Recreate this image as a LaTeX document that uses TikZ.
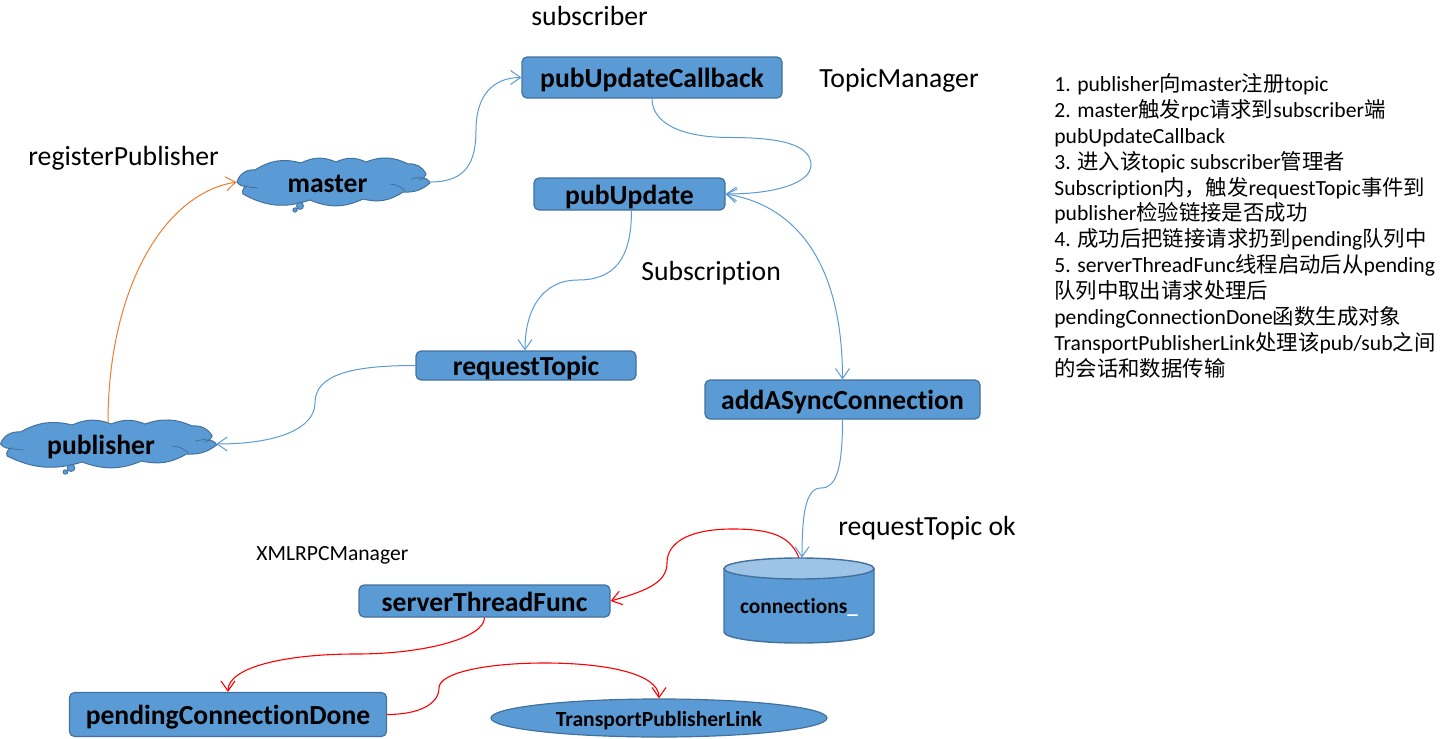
\documentclass[tikz,border=0pt]{standalone}
\usepackage{fontspec}
\setmainfont{Carlito}[Ligatures=NoCommon]
\newfontfamily\cjk{Noto Sans CJK SC}[Scale=0.99]
\usetikzlibrary{arrows.meta,shapes.geometric}
\definecolor{bfill}{HTML}{5B9BD5}
\definecolor{bline}{HTML}{41719C}
\definecolor{blight}{HTML}{9DC3E6}
\definecolor{conn}{HTML}{5B9BD5}
\definecolor{orng}{HTML}{ED7D31}
\newcommand\cj[1]{{\cjk #1}}
\newcommand\cloudshape[3]{%
\begin{scope}[shift={(#1,#2)},xscale=#3]
\draw[bline,fill=bfill,line width=0.5pt]
 (-96,0) to[bend left=40] (-78,-12) to[bend left=24] (-32,-19) to[bend left=25] (3,-20)
 to[bend left=25] (33,-20) to[bend left=24] (75,-18) to[bend left=35] (93,-8)
 to[bend left=30] (88,-3) to[bend left=50] (97,1) to[bend left=22] (70,10) to[bend left=24] (30,17)
 to[bend left=24] (-23,18) to[bend left=24] (-90,12) to[bend left=60] (-85,4)
 to[bend left=35] cycle;
\draw[bline,line width=0.4pt] (57,2) to[bend left=20] (72,9) (78,-3) -- (88,-5)
 (-85,5) -- (-75,6);
\fill[bfill] (-33,24) circle (3.5) (-38,28) circle (2.2);
\draw[bline,line width=0.4pt] (-33,24) circle (3.5) (-38,28) circle (2.2);
\end{scope}}
\tikzset{x=0.5pt,y=-0.5pt,
 boxnode/.style={draw=bline,fill=bfill,rounded corners=2.5pt,line width=0.6pt,
   text height=11.5pt,text depth=1.5pt,font=\bfseries\fontsize{13.8}{15}\selectfont,inner sep=0pt},
 cloudnode/.style={inner sep=0pt,text height=11.5pt,text depth=1.5pt,font=\bfseries\fontsize{13.8}{15}\selectfont},
 lbl/.style={inner sep=0pt,anchor=west,font=\fontsize{13.85}{15}\selectfont},
 blink/.style={conn,line width=0.5pt,-{Straight Barb[length=5pt,width=7pt]}},
 olink/.style={orng,line width=0.5pt,-{Straight Barb[length=5pt,width=7pt]}},
 rlink/.style={red,line width=0.55pt,-{Straight Barb[length=5pt,width=7pt]}},
}
\begin{document}
\begin{tikzpicture}
\useasboundingbox (0,0) rectangle (1447,739);
\cloudshape{333}{182}{1}
\cloudshape{108}{444}{1.12}
\node[cloudnode,minimum width=96.5pt,minimum height=22pt] (master) at (333.5,182) {\hspace*{-6pt}master};
\node[cloudnode,minimum width=108pt,minimum height=21pt] (publisher) at (108,444) {\hspace*{-7pt}publisher};
\node[boxnode,minimum width=130pt,minimum height=20.5pt] (cb) at (652,77.5) {pubUpdateCallback};
\node[boxnode,minimum width=95.5pt,minimum height=16pt] (pu) at (629.5,194) {pubUpdate};
\node[boxnode,minimum width=110pt,minimum height=14.5pt] (rt) at (526,365.5) {requestTopic};
\node[boxnode,minimum width=137.5pt,minimum height=19.5pt] (ac) at (842.5,399.5) {addASyncConnection};
\node[boxnode,minimum width=125.5pt,minimum height=16pt] (st) at (484.5,601) {serverThreadFunc};
\node[boxnode,minimum width=158.5pt,minimum height=22pt] (pc) at (228,714.5) {pendingConnectionDone};
\node[draw=bline,fill=bfill,ellipse,line width=0.6pt,minimum width=168pt,minimum height=19pt,inner sep=0pt,text height=9pt,text depth=1pt,font=\bfseries\fontsize{10.8}{12}\selectfont] (tp) at (659,718) {TransportPublisherLink};
% cylinder
\draw[bline,fill=bfill,line width=0.7pt] (724,568.5) -- (724,632) arc[start angle=180,end angle=0,x radius=75,y radius=11] -- (874,568.5) -- cycle;
\draw[bline,fill=blight,line width=0.7pt] (799,568.5) ellipse[x radius=75,y radius=10.5];
\node[inner sep=0pt,minimum width=75pt,minimum height=42.5pt,text height=13.4pt,text depth=0pt,font=\bfseries\fontsize{10.7}{12}\selectfont] (cn) at (799,600.5) {connections\textcolor{white}{\_}};
% labels
\node[lbl] at (531,16) {subscriber};
\node[lbl] at (819,80) {TopicManager};
\node[lbl] at (28,158) {registerPublisher};
\node[lbl] at (641,273) {Subscription};
\node[lbl] at (838,528) {requestTopic ok};
\node[lbl,font=\fontsize{10.8}{12}\selectfont] at (256,555) {XMLRPCManager};
\node[inner sep=0pt,anchor=north west,align=left,font=\fontsize{10.8}{12.95}\selectfont] (notes) at (1054,73) {%
1. publisher\cj{向}master\cj{注册}topic\\
2. master\cj{触发}rpc\cj{请求到}subscriber\cj{端}\\
pubUpdateCallback\\
3. \cj{进入该}topic subscriber\cj{管理者}\\
Subscription\cj{内，触发}requestTopic\cj{事件到}\\
publisher\cj{检验链接是否成功}\\
4. \cj{成功后把链接请求扔到}pending\cj{队列中}\\
5. serverThreadFunc\cj{线程启动后从}pending\\
\cj{队列中取出请求处理后}\\
pendingConnectionDone\cj{函数生成对象}\\
TransportPublisherLink\cj{处理该}pub/sub\cj{之间}\\
\cj{的会话和数据传输}};
% connectors
\draw[blink] (master.east) .. controls +(36,0) and +(0,32) .. (476,130) .. controls +(0,-35) and +(-28,0) .. (cb.west);
\draw[blink] (cb.south) .. controls +(0,24) and +(-50,0) .. (730,137.5) .. controls +(45,0) and +(0,-22) .. (811,165) .. controls +(0,18) and +(50,0) .. (pu.east);
\draw[conn,line width=0.5pt,{Straight Barb[length=5pt,width=7pt]}-{Straight Barb[length=5pt,width=7pt]}] (pu.east) .. controls +(75,12) and +(0,-110) .. (ac.north);
\draw[blink] ([xshift=1pt]pu.south) .. controls +(0,50) and +(35,0) .. (578,280) .. controls +(-35,0) and +(0,-42) .. ([xshift=-0.5pt]rt.north);
\draw[blink] (rt.west) .. controls +(-65,0) and +(0,-28) .. (315,403) .. controls +(0,25) and +(62,0) .. (publisher.east);
\draw[olink] (publisher.north) .. controls +(0,-130) and +(-75,12) .. (master.west);
\draw[blink] (ac.south) .. controls +(0,50) and +(15,0) .. (821,488) .. controls +(-15,0) and +(0,-45) .. ([xshift=1.5pt]cn.north);
\draw[rlink] (cn.north) .. controls +(-8,-18) and +(45,0) .. (733,529) .. controls +(-45,0) and +(0,-20) .. (667,563) .. controls +(0,20) and +(35,-10) .. (st.east);
\draw[rlink] (st.south) .. controls +(0,20) and +(70,0) .. (356,654) .. controls +(-70,0) and +(0,-25) .. (pc.north);
\draw[rlink] (pc.east) .. controls +(32,0) and +(0,16) .. (439,688) .. controls +(0,-15) and +(-60,0) .. (545,663) .. controls +(60,0) and +(0,-25) .. (tp.north);
\end{tikzpicture}
\end{document}
